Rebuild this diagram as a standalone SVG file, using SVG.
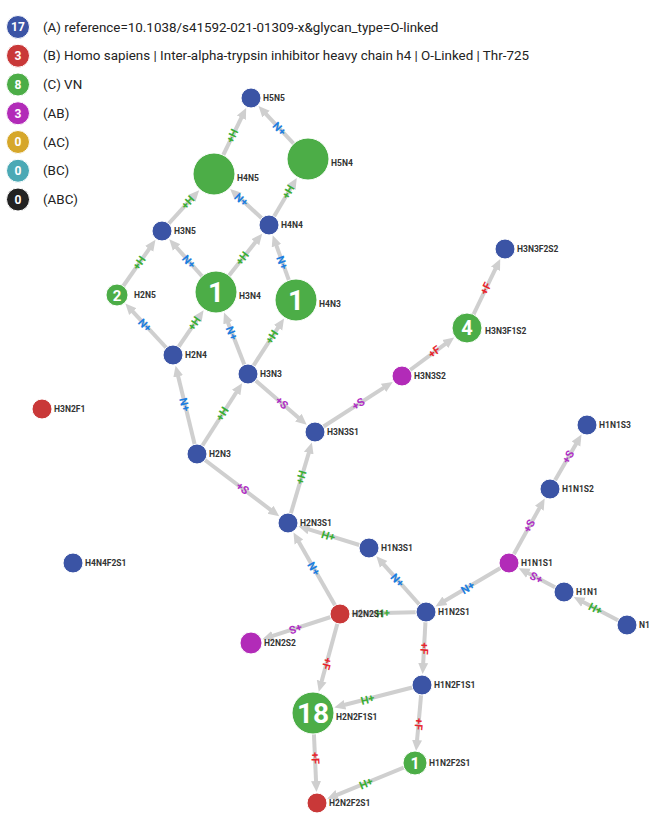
<svg xmlns="http://www.w3.org/2000/svg" width="650" height="826" viewBox="0 0 650 826">
<style>
text{font-family:Roboto,"Liberation Sans",sans-serif}
.lg{font-size:13.4px;fill:#222}
.ln{font-size:12px;font-weight:bold;fill:#fff;text-anchor:middle}
.nl{font-size:8.5px;font-weight:bold;fill:#333}
.num{font-weight:bold;fill:#fff;text-anchor:middle}
.edge{stroke:#cfcfcf;stroke-width:4;fill:none;marker-end:url(#arr)}
.el{font-size:11px;font-weight:bold;text-anchor:middle;dominant-baseline:central}
.h{fill:#3aae34}.n{fill:#1c7ee0}.s{fill:#b02fc4}.f{fill:#e8242c}
.cb{fill:#3b54a5}.cg{fill:#4cad47}.cr{fill:#c93838}.cp{fill:#b22bb8}
circle{stroke:#fff;stroke-width:1}
</style>
<defs>
<marker id="arr" markerUnits="userSpaceOnUse" markerWidth="12" markerHeight="12" refX="0" refY="6" orient="auto" viewBox="-1 0 12 12"><path d="M-1,1 L10,6 L-1,11 z" fill="#cfcfcf"/></marker>
</defs>
<g id="legend">
<circle cx="18" cy="27" r="11.5" fill="#3b54a5"/><text class="ln" x="18" y="31.3">17</text><text class="lg" x="43" y="31.6">(A) reference=10.1038/s41592-021-01309-x&amp;glycan_type=O-linked</text>
<circle cx="18" cy="55.75" r="11.5" fill="#c93838"/><text class="ln" x="18" y="60">3</text><text class="lg" x="43" y="60.4">(B) Homo sapiens | Inter-alpha-trypsin inhibitor heavy chain h4 | O-Linked | Thr-725</text>
<circle cx="18" cy="84.5" r="11.5" fill="#4cad47"/><text class="ln" x="18" y="88.8">8</text><text class="lg" x="43" y="89.1">(C) VN</text>
<circle cx="18" cy="113.25" r="11.5" fill="#b22bb8"/><text class="ln" x="18" y="117.5">3</text><text class="lg" x="43" y="117.9">(AB)</text>
<circle cx="18" cy="142" r="11.5" fill="#d6a72a"/><text class="ln" x="18" y="146.3">0</text><text class="lg" x="43" y="146.6">(AC)</text>
<circle cx="18" cy="170.75" r="11.5" fill="#4ba9b5"/><text class="ln" x="18" y="175">0</text><text class="lg" x="43" y="175.4">(BC)</text>
<circle cx="18" cy="199.5" r="11.5" fill="#222"/><text class="ln" x="18" y="203.8">0</text><text class="lg" x="43" y="204.1">(ABC)</text>
</g>
<g id="connectors">
<line class="edge" x1="214" y1="174" x2="241.81" y2="116.88"/>
<line class="edge" x1="308" y1="159" x2="265.34" y2="113.34"/>
<line class="edge" x1="162" y1="231" x2="192.43" y2="197.64"/>
<line class="edge" x1="269" y1="225" x2="237.47" y2="195.76"/>
<line class="edge" x1="269" y1="225" x2="291.72" y2="186.55"/>
<line class="edge" x1="117" y1="295" x2="149.74" y2="248.05"/>
<line class="edge" x1="216" y1="292" x2="175.92" y2="246.72"/>
<line class="edge" x1="216" y1="292" x2="255.97" y2="241.47"/>
<line class="edge" x1="296" y1="300" x2="276.11" y2="244.76"/>
<line class="edge" x1="173" y1="355" x2="132.15" y2="310.95"/>
<line class="edge" x1="173" y1="355" x2="197.96" y2="318.43"/>
<line class="edge" x1="248" y1="374" x2="227.63" y2="321.81"/>
<line class="edge" x1="248" y1="374" x2="278.59" y2="326.85"/>
<line class="edge" x1="197" y1="454" x2="177.95" y2="375.41"/>
<line class="edge" x1="197" y1="454" x2="236.71" y2="391.71"/>
<line class="edge" x1="248" y1="374" x2="299.12" y2="418.26"/>
<line class="edge" x1="315" y1="432" x2="384.34" y2="387.37"/>
<line class="edge" x1="402" y1="376" x2="446.09" y2="343.45"/>
<line class="edge" x1="467" y1="328" x2="495.9" y2="267.93"/>
<line class="edge" x1="197" y1="454" x2="271.27" y2="510.31"/>
<line class="edge" x1="288" y1="523" x2="309.03" y2="452.13"/>
<line class="edge" x1="369" y1="548" x2="308.07" y2="529.19"/>
<line class="edge" x1="340" y1="614" x2="298.42" y2="541.23"/>
<line class="edge" x1="426" y1="612" x2="382.97" y2="563.68"/>
<line class="edge" x1="509" y1="563" x2="444.09" y2="601.32"/>
<line class="edge" x1="509" y1="563" x2="539.82" y2="507.37"/>
<line class="edge" x1="550" y1="489" x2="576.49" y2="443.18"/>
<line class="edge" x1="564" y1="592" x2="527.57" y2="572.79"/>
<line class="edge" x1="627" y1="625" x2="582.6" y2="601.74"/>
<line class="edge" x1="426" y1="612" x2="360.99" y2="613.51"/>
<line class="edge" x1="340" y1="614" x2="271.92" y2="636.18"/>
<line class="edge" x1="340" y1="614" x2="321.42" y2="682.13"/>
<line class="edge" x1="426" y1="612" x2="423.15" y2="664.03"/>
<line class="edge" x1="422" y1="685" x2="343.99" y2="705.04"/>
<line class="edge" x1="422" y1="685" x2="416.97" y2="741.09"/>
<line class="edge" x1="313" y1="713" x2="316.07" y2="782.02"/>
<line class="edge" x1="415" y1="763" x2="336.44" y2="795.06"/>
<text class="el h" transform="translate(232.5,136) rotate(-64.05)">+H</text>
<text class="el n" transform="translate(279.5,128.5) rotate(-133.06)">+N</text>
<text class="el h" transform="translate(188,202.5) rotate(-47.62)">+H</text>
<text class="el n" transform="translate(241.5,199.5) rotate(-137.16)">+N</text>
<text class="el h" transform="translate(288.5,192) rotate(-59.42)">+H</text>
<text class="el h" transform="translate(139.5,263) rotate(-54.29)">+H</text>
<text class="el n" transform="translate(189,261.5) rotate(-131.52)">+N</text>
<text class="el h" transform="translate(242.5,258.5) rotate(-51.66)">+H</text>
<text class="el n" transform="translate(282.5,262.5) rotate(-109.8)">+N</text>
<text class="el n" transform="translate(145,325) rotate(-133.53)">+N</text>
<text class="el h" transform="translate(194.5,323.5) rotate(-55.69)">+H</text>
<text class="el n" transform="translate(232,333) rotate(-111.32)">+N</text>
<text class="el h" transform="translate(272,337) rotate(-57.03)">+H</text>
<text class="el n" transform="translate(185,404.5) rotate(-103.63)">+N</text>
<text class="el h" transform="translate(222.5,414) rotate(-57.48)">+H</text>
<text class="el s" transform="translate(281.5,403) rotate(40.88)">+S</text>
<text class="el s" transform="translate(358.5,404) rotate(-32.77)">+S</text>
<text class="el f" transform="translate(434.5,352) rotate(-36.44)">+F</text>
<text class="el f" transform="translate(486,288.5) rotate(-64.31)">+F</text>
<text class="el s" transform="translate(242.5,488.5) rotate(37.17)">+S</text>
<text class="el h" transform="translate(301.5,477.5) rotate(-73.47)">+H</text>
<text class="el h" transform="translate(328.5,535.5) rotate(-162.85)">+H</text>
<text class="el n" transform="translate(314,568.5) rotate(-119.74)">+N</text>
<text class="el n" transform="translate(397.5,580) rotate(-131.69)">+N</text>
<text class="el n" transform="translate(467.5,587.5) rotate(149.45)">+N</text>
<text class="el s" transform="translate(529.5,526) rotate(-61)">+S</text>
<text class="el s" transform="translate(568.5,457) rotate(-59.97)">+S</text>
<text class="el s" transform="translate(536.5,577.5) rotate(-152.2)">+S</text>
<text class="el h" transform="translate(595.5,608.5) rotate(-152.35)">+H</text>
<text class="el h" transform="translate(383,613) rotate(178.67)">+H</text>
<text class="el s" transform="translate(295.5,628.5) rotate(161.95)">+S</text>
<text class="el f" transform="translate(326.5,663.5) rotate(105.26)">+F</text>
<text class="el f" transform="translate(424,648.5) rotate(93.14)">+F</text>
<text class="el h" transform="translate(367.5,699) rotate(165.59)">+H</text>
<text class="el f" transform="translate(418.5,724) rotate(95.13)">+F</text>
<text class="el f" transform="translate(315,758) rotate(87.46)">+F</text>
<text class="el h" transform="translate(366,783) rotate(157.8)">+H</text>
</g>
<g id="H5N5"><circle class="cb" cx="251" cy="98" r="10"/><text class="nl" x="263" y="101.3">H5N5</text></g>
<g id="H5N4"><circle class="cg" cx="308" cy="159" r="21"/><text class="nl" x="331" y="166">H5N4</text></g>
<g id="H4N5"><circle class="cg" cx="214" cy="174" r="21"/><text class="nl" x="237" y="181">H4N5</text></g>
<g id="H3N5"><circle class="cb" cx="162" cy="231" r="10"/><text class="nl" x="174" y="234.3">H3N5</text></g>
<g id="H4N4"><circle class="cb" cx="269" cy="225" r="10"/><text class="nl" x="281" y="228.3">H4N4</text></g>
<g id="H2N5"><circle class="cg" cx="117" cy="295" r="11"/><text class="num" x="117" y="300.5" font-size="15">2</text><text class="nl" x="134" y="298.3">H2N5</text></g>
<g id="H3N4"><circle class="cg" cx="216" cy="292" r="21"/><text class="num" x="216" y="302" font-size="28">1</text><text class="nl" x="239" y="299">H3N4</text></g>
<g id="H4N3"><circle class="cg" cx="296" cy="300" r="21"/><text class="num" x="296" y="310" font-size="28">1</text><text class="nl" x="319" y="307">H4N3</text></g>
<g id="H2N4"><circle class="cb" cx="173" cy="355" r="10"/><text class="nl" x="185" y="358.3">H2N4</text></g>
<g id="H3N3"><circle class="cb" cx="248" cy="374" r="10"/><text class="nl" x="260" y="377.3">H3N3</text></g>
<g id="H3N3S2"><circle class="cp" cx="402" cy="376" r="10"/><text class="nl" x="414" y="379.3">H3N3S2</text></g>
<g id="H3N3F1S2"><circle class="cg" cx="467" cy="328" r="15"/><text class="num" x="467" y="335" font-size="20">4</text><text class="nl" x="485" y="333.7">H3N3F1S2</text></g>
<g id="H3N3F2S2"><circle class="cb" cx="505" cy="249" r="10"/><text class="nl" x="517" y="252.3">H3N3F2S2</text></g>
<g id="H3N2F1"><circle class="cr" cx="42" cy="409" r="10"/><text class="nl" x="54" y="412.3">H3N2F1</text></g>
<g id="H4N4F2S1"><circle class="cb" cx="73" cy="563" r="10"/><text class="nl" x="85" y="566.3">H4N4F2S1</text></g>
<g id="H3N3S1"><circle class="cb" cx="315" cy="432" r="10"/><text class="nl" x="327" y="435.3">H3N3S1</text></g>
<g id="H2N3"><circle class="cb" cx="197" cy="454" r="10"/><text class="nl" x="209" y="457.3">H2N3</text></g>
<g id="H2N3S1"><circle class="cb" cx="288" cy="523" r="10"/><text class="nl" x="300" y="526.3">H2N3S1</text></g>
<g id="H1N3S1"><circle class="cb" cx="369" cy="548" r="10"/><text class="nl" x="381" y="551.3">H1N3S1</text></g>
<g id="H1N1S3"><circle class="cb" cx="587" cy="425" r="10"/><text class="nl" x="599" y="428.3">H1N1S3</text></g>
<g id="H1N1S2"><circle class="cb" cx="550" cy="489" r="10"/><text class="nl" x="562" y="492.3">H1N1S2</text></g>
<g id="H1N1S1"><circle class="cp" cx="509" cy="563" r="10"/><text class="nl" x="521" y="566.3">H1N1S1</text></g>
<g id="H1N1"><circle class="cb" cx="564" cy="592" r="10"/><text class="nl" x="576" y="595.3">H1N1</text></g>
<g id="N1"><circle class="cb" cx="627" cy="625" r="10"/><text class="nl" x="639" y="628.3">N1</text></g>
<g id="H1N2S1"><circle class="cb" cx="426" cy="612" r="10"/><text class="nl" x="438" y="615.3">H1N2S1</text></g>
<g id="H2N2S1"><circle class="cr" cx="340" cy="614" r="10"/><text class="nl" x="352" y="617.3">H2N2S1</text></g>
<g id="H2N2S2"><circle class="cp" cx="251" cy="643" r="11"/><text class="nl" x="264" y="646.3">H2N2S2</text></g>
<g id="H1N2F1S1"><circle class="cb" cx="422" cy="685" r="10"/><text class="nl" x="434" y="688.3">H1N2F1S1</text></g>
<g id="H2N2F1S1"><circle class="cg" cx="313" cy="713" r="21"/><text class="num" x="313" y="723" font-size="28">18</text><text class="nl" x="336" y="720">H2N2F1S1</text></g>
<g id="H1N2F2S1"><circle class="cg" cx="415" cy="763" r="12"/><text class="num" x="415" y="769" font-size="16">1</text><text class="nl" x="429" y="766.3">H1N2F2S1</text></g>
<g id="H2N2F2S1"><circle class="cr" cx="317" cy="803" r="10"/><text class="nl" x="329" y="806.3">H2N2F2S1</text></g>
</svg>
